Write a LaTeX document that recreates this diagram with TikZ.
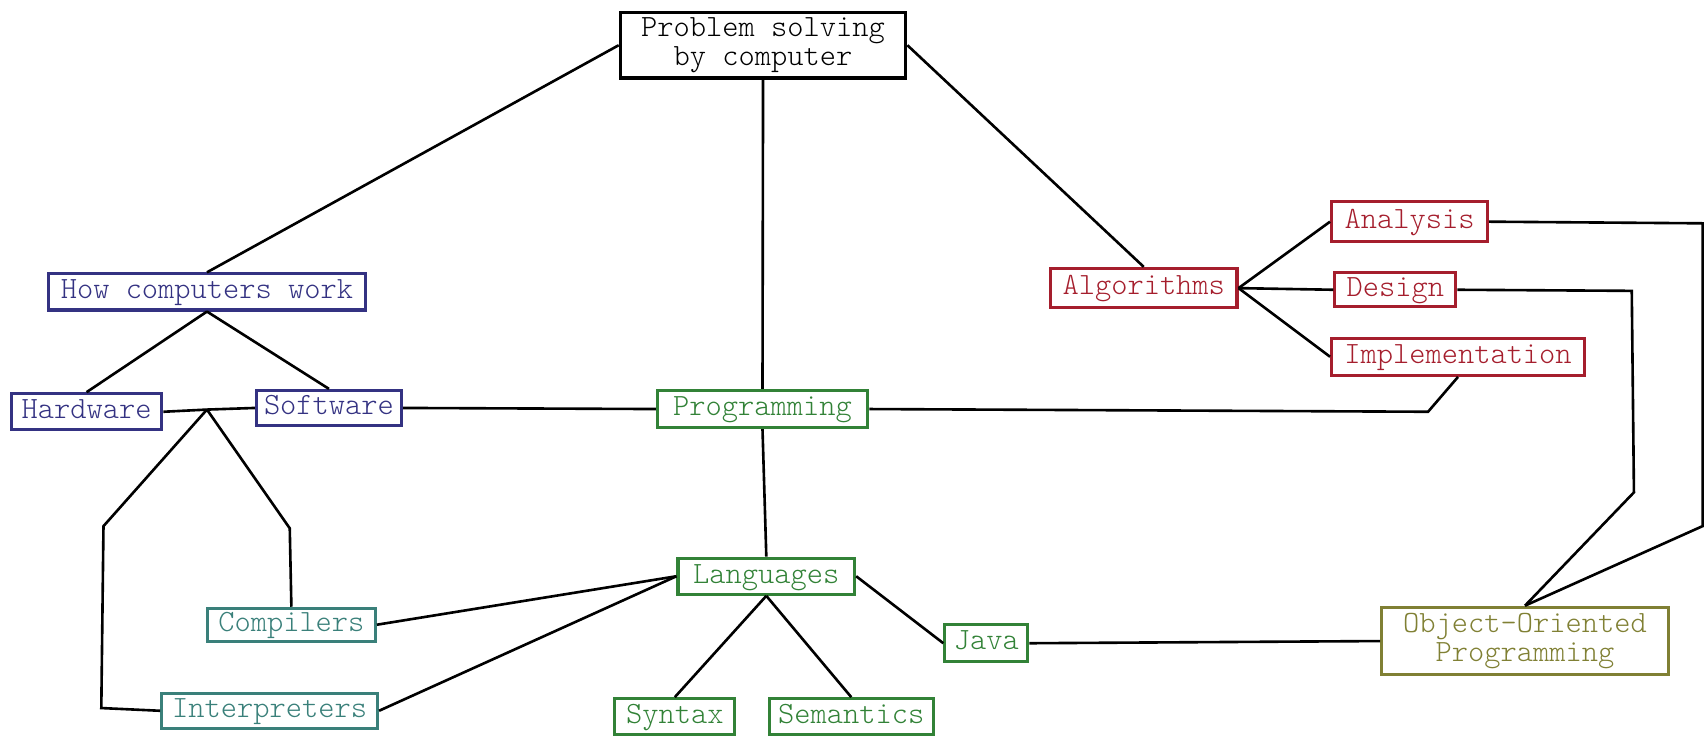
\documentclass[tikz,border=0pt]{standalone}
\usepackage{fontspec}
\setmonofont{lmmonolt10-regular.otf}
\usepackage{tikz}
\usepackage{xcolor}

\definecolor{hwblue}{RGB}{52,50,130}
\definecolor{algred}{RGB}{165,30,45}
\definecolor{proggreen}{RGB}{50,130,55}
\definecolor{langteal}{RGB}{58,128,122}
\definecolor{oopolive}{RGB}{128,128,52}

\begin{document}
\begin{tikzpicture}[x=0.5pt, y=-0.5pt,
    every node/.style={font=\fontsize{14.2}{13.4}\selectfont\ttfamily},
    topic/.style 2 args={draw, line width=1.4pt, inner sep=1pt,
        text height=9pt, text depth=2.8pt, minimum width=#1, minimum height=#2},
    bigtopic/.style 2 args={draw, line width=1.4pt, inner sep=1pt, align=center,
        minimum width=#1, minimum height=#2},
    link/.style={line width=1.2pt}]
    \useasboundingbox (0,0) rectangle (1568,676);

    % top
    \node[bigtopic={131.1pt}{30.1pt}] (problem) at (700.5,41.5) {Problem solving\\by computer};

    % hardware / software
    \node[topic={145.6pt}{16.6pt}, hwblue] (howwork) at (190,268) {How computers work};
    \node[topic={69.1pt}{16.6pt}, hwblue] (hardware) at (79.5,378) {Hardware};
    \node[topic={66.6pt}{16.1pt}, hwblue] (software) at (302,374.5) {Software};
    \node[topic={77.1pt}{15.1pt}, langteal] (compilers) at (267.5,573.5) {Compilers};
    \node[topic={99.1pt}{16.1pt}, langteal] (interpreters) at (247.5,652.5) {Interpreters};
    \coordinate (hwsw) at (190,376);

    % programming
    \node[topic={96.6pt}{17.1pt}, proggreen] (programming) at (700,375.5) {Programming};
    \node[topic={81.1pt}{16.6pt}, proggreen] (languages) at (703.5,529) {Languages};
    \node[topic={55.1pt}{16.6pt}, proggreen] (syntax) at (619.5,658) {Syntax};
    \node[topic={75.1pt}{16.6pt}, proggreen] (semantics) at (781.5,658) {Semantics};
    \node[topic={38.1pt}{17.1pt}, proggreen] (java) at (905.5,590.5) {Java};

    % algorithms
    \node[topic={85.6pt}{18.1pt}, algred] (algorithms) at (1050,264.5) {Algorithms};
    \node[topic={71.6pt}{18.1pt}, algred] (analysis) at (1294,203.5) {Analysis};
    \node[topic={55.6pt}{15.6pt}, algred] (design) at (1281,266) {Design};
    \node[topic={116.1pt}{17.1pt}, algred] (implementation) at (1338.5,327.5) {Implementation};
    \node[bigtopic={131.6pt}{31.1pt}, oopolive] (oop) at (1400,588.5) {Object-Oriented\\Programming};

    \draw[link] (problem.west) -- (howwork.north);
    \draw[link] (problem.south) -- (programming.north);
    \draw[link] (problem.east) -- (algorithms.north);

    \draw[link] (howwork.south) -- (hardware.north);
    \draw[link] (howwork.south) -- (software.north);
    \draw[link] (hardware.east) -- (hwsw) -- (software.west);
    \draw[link] (hwsw) -- (95,483) -- (93,650) -- (interpreters.west);
    \draw[link] (hwsw) -- (266,485) -- (compilers.north);
    \draw[link] (software.east) -- (programming.west);

    \draw[link] (programming.south) -- (languages.north);
    \draw[link] (programming.east) -- (1311,378) -- (implementation.south);
    \draw[link] (languages.west) -- (compilers.east);
    \draw[link] (languages.west) -- (interpreters.east);
    \draw[link] (languages.south) -- (syntax.north);
    \draw[link] (languages.south) -- (semantics.north);
    \draw[link] (languages.east) -- (java.west);
    \draw[link] (java.east) -- (oop.west);

    \foreach \part in {analysis,design,implementation}
        \draw[link] (algorithms.east) -- (\part.west);
    \draw[link] (analysis.east) -- (1563,205) -- (1563,483) -- (oop.north);
    \draw[link] (design.east) -- (1498,267) -- (1500,452) -- (oop.north);
\end{tikzpicture}
\end{document}
